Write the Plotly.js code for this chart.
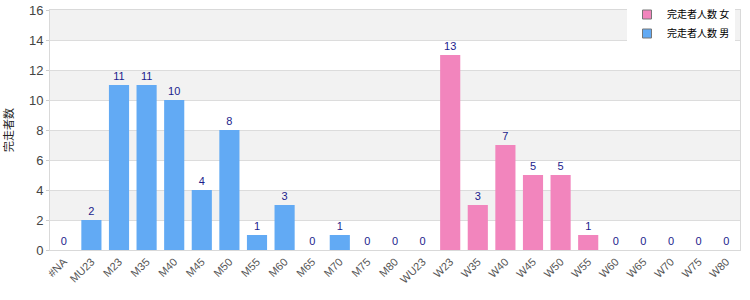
<!DOCTYPE html>
<html>
<head>
<meta charset="utf-8">
<script src="https://cdn.plot.ly/plotly-3.0.1.min.js"></script>
<style>html,body{margin:0;padding:0;background:#fff;}#chart{width:750px;height:300px;}</style>
</head>
<body>
<div id="chart"></div>
<script>
const categories = ["#NA","MU23","M23","M35","M40","M45","M50","M55","M60","M65","M70","M75","M80","WU23","W23","W35","W40","W45","W50","W55","W60","W65","W70","W75","W80"];
const menCategories = ["#NA","MU23","M23","M35","M40","M45","M50","M55","M60","M65","M70","M75","M80"];
const menValues = [0,2,11,11,10,4,8,1,3,0,1,0,0];
const womenCategories = ["WU23","W23","W35","W40","W45","W50","W55","W60","W65","W70","W75","W80"];
const womenValues = [0,13,3,7,5,5,1,0,0,0,0,0];
const yTicks = [0,2,4,6,8,10,12,14,16];
const womenName = "完走者人数 女";
const menName = "完走者人数 男";
const yTitle = "完走者数";

const womenColor = '#f285bd';
const menColor = '#62aaf4';

const bands = [];
for (let i = 1; i < yTicks.length - 1; i += 2) {
  bands.push({type:'rect', xref:'paper', yref:'y', x0:0, x1:1, y0:yTicks[yTicks.length-1-i], y1:yTicks[yTicks.length-i],
    fillcolor:'#f2f2f2', line:{width:0}, layer:'below'});
}

const labelFont = {family:'Liberation Sans, Arial, sans-serif', size:11, color:'#1c1c8c'};
const traces = [
  {type:'bar', name:womenName, x:womenCategories, y:womenValues, showlegend:false,
   marker:{color:womenColor, line:{width:0}},
   texttemplate:'%{y}', textposition:'outside', textfont:labelFont, cliponaxis:false, hoverinfo:'x+y'},
  {type:'bar', name:menName, x:menCategories, y:menValues, showlegend:false,
   marker:{color:menColor, line:{width:0}},
   texttemplate:'%{y}', textposition:'outside', textfont:labelFont, cliponaxis:false, hoverinfo:'x+y'},
  {type:'scatter', mode:'markers', name:womenName, x:[null], y:[null],
   marker:{symbol:'square', size:9, color:womenColor, line:{color:'#777', width:1}}},
  {type:'scatter', mode:'markers', name:menName, x:[null], y:[null],
   marker:{symbol:'square', size:9, color:menColor, line:{color:'#777', width:1}}}
];

const layout = {
  width:750, height:300,
  margin:{l:50, r:10, t:10, b:50, autoexpand:false},
  paper_bgcolor:'#ffffff', plot_bgcolor:'#ffffff',
  font:{family:'Liberation Sans, Arial, sans-serif', size:11, color:'#444'},
  barmode:'overlay', bargap:0.27,
  showlegend:true,
  legend:{xref:'container', yref:'container', x:0.98, xanchor:'right', y:1, yanchor:'top', bgcolor:'#ffffff',
    font:{family:'Noto Sans CJK JP, sans-serif', size:10, color:'#000'},
    itemwidth:30, tracegroupgap:0},
  xaxis:{type:'category', categoryorder:'array', categoryarray:categories,
    tickangle:-45, tickfont:{size:11, color:'#555'}, showgrid:false,
    showline:true, linecolor:'#d9d9d9', mirror:true, ticks:'', zeroline:false},
  yaxis:{range:[0,16], tickvals:yTicks, showgrid:true, gridcolor:'#dcdcdc',
    showline:true, linecolor:'#d9d9d9', mirror:true, ticks:'outside', ticklen:3, tickcolor:'#cccccc',
    tickfont:{size:13, color:'#444'}, zeroline:false,
    title:{text:yTitle, font:{family:'Noto Sans CJK JP, sans-serif', size:11, color:'#222'}, standoff:16}},
  shapes:bands
};

Plotly.newPlot('chart', traces, layout, {displayModeBar:false, staticPlot:true});
</script>
</body>
</html>
